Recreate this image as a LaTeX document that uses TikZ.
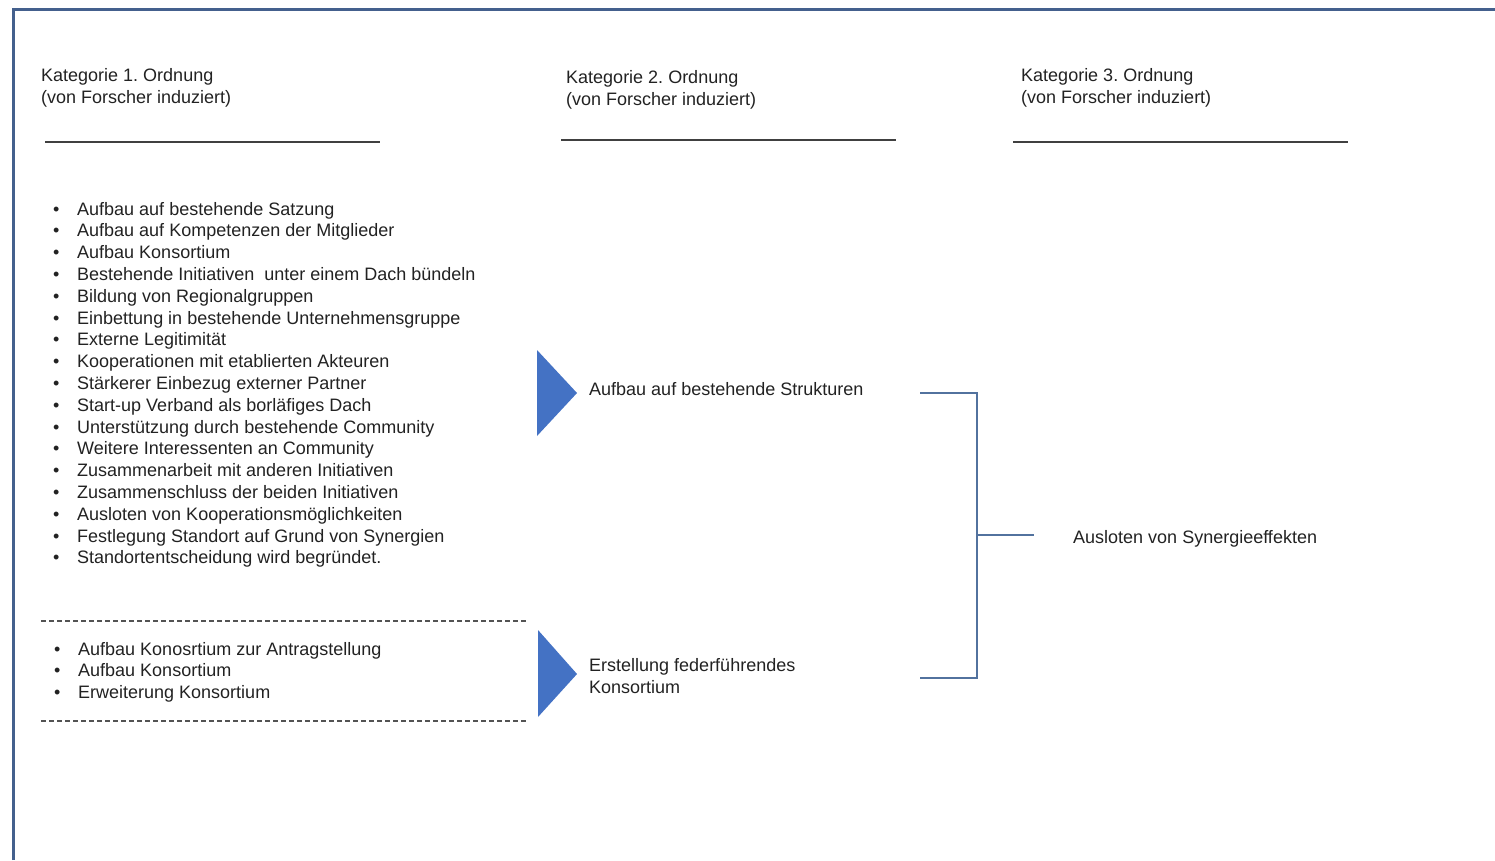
\documentclass[tikz,border=0pt]{standalone}
\usepackage{fontspec}
\setmainfont{Liberation Sans}
\frenchspacing
\definecolor{frameblue}{HTML}{44608D}
\definecolor{arrowblue}{HTML}{4472C4}
\definecolor{bracketblue}{HTML}{52729E}
\definecolor{ink}{HTML}{222222}
\definecolor{rulegray}{HTML}{404040}
\begin{document}
\begin{tikzpicture}[x=1pt,y=-1pt,
  txt/.style={anchor=base west,inner sep=0pt,text=ink,font=\fontsize{18}{22}\selectfont},
  bul/.style={anchor=base west,inner sep=0pt,text=ink,font=\fontsize{18}{22}\selectfont},
  headrule/.style={draw=rulegray,line width=1.4pt},
  sep/.style={draw=rulegray!90,line width=1.1pt,dash pattern=on 5pt off 3pt},
  tri/.style={fill=arrowblue,draw=none},
  brk/.style={draw=bracketblue,line width=1.3pt}]
\useasboundingbox (0,0) rectangle (1495,860);

% frame (top and left edges)
\draw[frameblue,line width=3pt] (13,860) -- (13,9) -- (1500,9);

% column headers
\node[txt] (h1a) at (41,81)  {Kategorie 1. Ordnung};
\node[txt] (h1b) at (41,103) {(von Forscher induziert)};
\node[txt] (h2a) at (566,83)  {Kategorie 2. Ordnung};
\node[txt] (h2b) at (566,105) {(von Forscher induziert)};
\node[txt] (h3a) at (1021,81)  {Kategorie 3. Ordnung};
\node[txt] (h3b) at (1021,103) {(von Forscher induziert)};
\draw[headrule] (45,142) -- (380,142);
\draw[headrule] (561,140) -- (896,140);
\draw[headrule] (1013,142) -- (1348,142);

% first order categories, upper group
\foreach \t [count=\i] in {
  Aufbau auf bestehende Satzung,
  Aufbau auf Kompetenzen der Mitglieder,
  Aufbau Konsortium,
  Bestehende Initiativen\ \ unter einem Dach bündeln,
  Bildung von Regionalgruppen,
  Einbettung in bestehende Unternehmensgruppe,
  Externe Legitimität,
  Kooperationen mit etablierten Akteuren,
  Stärkerer Einbezug externer Partner,
  Start-up Verband als borläfiges Dach,
  Unterstützung durch bestehende Community,
  Weitere Interessenten an Community,
  Zusammenarbeit mit anderen Initiativen,
  Zusammenschluss der beiden Initiativen,
  Ausloten von Kooperationsmöglichkeiten,
  Festlegung Standort auf Grund von Synergien,
  Standortentscheidung wird begründet.}
{
  \node[bul] (ua\i) at (53,{215+21.8*(\i-1)}) {•};
  \node[txt] (ut\i) at (77,{215+21.8*(\i-1)}) {\t};
}

% first order categories, lower group
\draw[sep] (41,621) -- (527,621);
\foreach \t [count=\i] in {
  Aufbau Konosrtium zur Antragstellung,
  Aufbau Konsortium,
  Erweiterung Konsortium}
{
  \node[bul] (la\i) at (54,{655+21.6*(\i-1)}) {•};
  \node[txt] (lt\i) at (78,{655+21.6*(\i-1)}) {\t};
}
\draw[sep] (41,721) -- (527,721);

% second order categories
\fill[tri] (537,350) -- (577,393) -- (537,436) -- cycle;
\node[txt] (s1) at (589,395) {Aufbau auf bestehende Strukturen};
\fill[tri] (538,630) -- (577,674) -- (538,717) -- cycle;
\node[txt] (s2a) at (589,671) {Erstellung federführendes};
\node[txt] (s2b) at (589,693) {Konsortium};

% bracket to third order category
\coordinate (bt) at (920,393);
\coordinate (bb) at (920,678);
\coordinate (jt) at (977,393);
\coordinate (jb) at (977,678);
\coordinate (jm) at (977,535);
\coordinate (bm) at (1034,535);
\draw[brk] (bt) -- (jt) -- (jb) -- (bb);
\draw[brk] (jm) -- (bm);
\node[txt] (t1) at (1073,543) {Ausloten von Synergieeffekten};
\end{tikzpicture}
\end{document}
